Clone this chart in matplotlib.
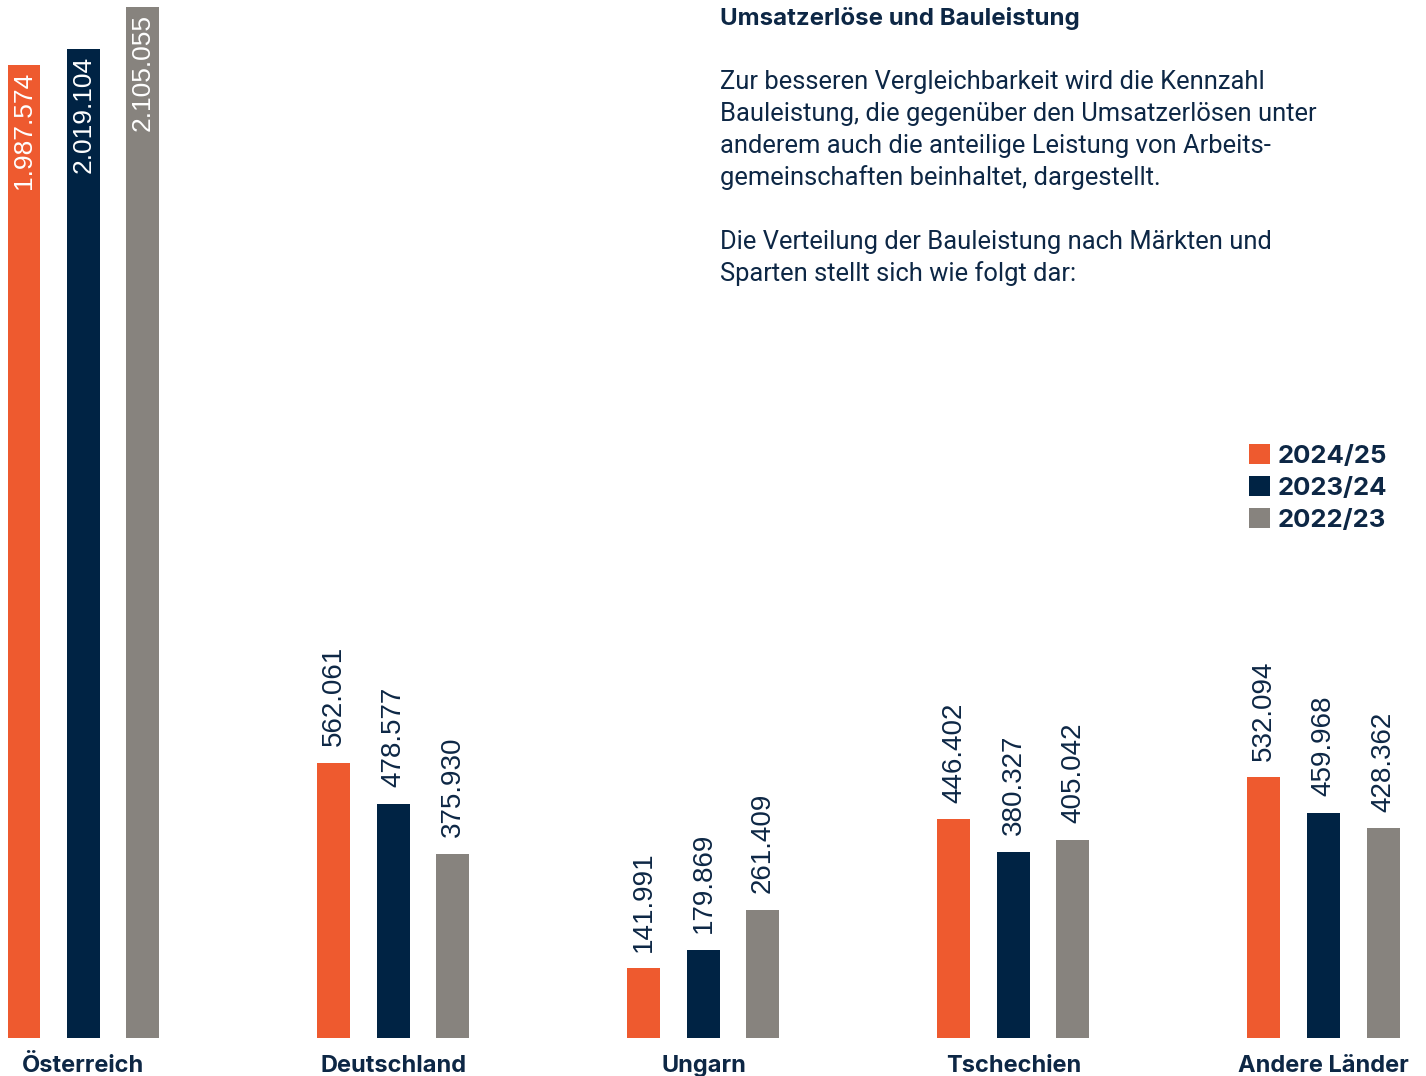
import matplotlib.pyplot as plt
import numpy as np
from matplotlib.patches import Patch

# Bauleistung nach Märkten (TEUR)
maerkte = ['Österreich', 'Deutschland', 'Ungarn', 'Tschechien', 'Andere Länder']
jahre = ['2024/25', '2023/24', '2022/23']
werte_2024_25 = [1987574, 562061, 141991, 446402, 532094]
werte_2023_24 = [2019104, 478577, 179869, 380327, 459968]
werte_2022_23 = [2105055, 375930, 261409, 405042, 428362]

farben = ['#EE5A2F', '#002344', '#87837E']
navy = '#0D2745'

titel = 'Umsatzerlöse und Bauleistung'
absatz = [
    'Zur besseren Vergleichbarkeit wird die Kennzahl',
    'Bauleistung, die gegenüber den Umsatzerlösen unter',
    'anderem auch die anteilige Leistung von Arbeits-',
    'gemeinschaften beinhaltet, dargestellt.',
    '',
    'Die Verteilung der Bauleistung nach Märkten und',
    'Sparten stellt sich wie folgt dar:',
]

W, H = 1426, 1076
fig = plt.figure(figsize=(W / 100, H / 100), dpi=100)
ax = fig.add_axes([0, (H - 1038) / H, 1, 1031 / H])

serien = [werte_2024_25, werte_2023_24, werte_2022_23]
x = np.arange(len(maerkte))
versatz = 59.5 / 310
breite = 33 / 310

for j, (werte, farbe) in enumerate(zip(serien, farben)):
    pos = x + (j - 1) * versatz
    bars = ax.bar(pos, werte, width=breite, color=farbe, label=jahre[j])
    for b, v in zip(bars, werte):
        txt = f'{v:,}'.replace(',', '.')
        cx = b.get_x() + b.get_width() / 2
        if v > 1_000_000:
            # grosse Werte innerhalb des Balkens
            ax.annotate(txt, (cx, v), xytext=(0, -5), textcoords='offset points',
                        rotation=90, ha='center', va='top', color='white',
                        fontsize=19, family='Liberation Sans')
        else:
            ax.annotate(txt, (cx, v), xytext=(0, 12), textcoords='offset points',
                        rotation=90, ha='center', va='bottom', color=navy,
                        fontsize=20, family='Liberation Sans')

ax.set_xlim(-83.5 / 310, (W - 83.5) / 310)
ax.set_ylim(0, max(werte_2022_23))
ax.set_xticks(x)
ax.set_xticklabels(maerkte, fontsize=17, fontweight='bold', color=navy, family='Inter')
ax.tick_params(axis='x', length=0, pad=12)
ax.set_yticks([])
for s in ax.spines.values():
    s.set_visible(False)

# Legende
handles = [Patch(facecolor=f, label=l) for f, l in zip(farben, jahre)]
leg = fig.legend(handles=handles, loc='upper left', bbox_to_anchor=(1226 / W, 1 - 421 / H),
                 frameon=False, handlelength=0.8, handleheight=0.8, handletextpad=0.32,
                 labelspacing=0.32, prop={'family': 'Inter', 'weight': 'bold', 'size': 18.5})
for t in leg.get_texts():
    t.set_color(navy)

# Text oben rechts
fig.text(720 / W, 1 - 18 / H, titel, fontsize=17.3, fontweight='bold', color=navy,
         family='Inter', va='center', ha='left')
for k, zeile in enumerate(absatz):
    fig.text(720 / W, 1 - (82 + 32 * k) / H, zeile, fontsize=18.4, color=navy,
             family='Roboto', va='center', ha='left')

fig.savefig('out.png', dpi=100)
